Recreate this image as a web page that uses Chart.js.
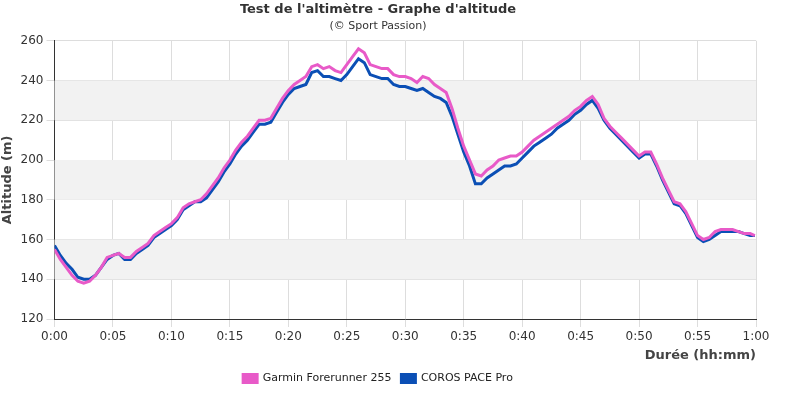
<!DOCTYPE html>
<html><head><meta charset="utf-8">
<script src="https://cdn.jsdelivr.net/npm/chart.js@4/dist/chart.umd.min.js"></script>
<style>body{margin:0;background:#fff}#w{width:800px;height:400px}</style></head>
<body><div id="w"><canvas id="c"></canvas></div>
<script>
const minutes=[0,0.5,1,1.5,2,2.5,3,3.5,4,4.5,5,5.5,6,6.5,7,7.5,8,8.5,9,9.5,10,10.5,11,11.5,12,12.5,13,13.5,14,14.5,15,15.5,16,16.5,17,17.5,18,18.5,19,19.5,20,20.5,21,21.5,22,22.5,23,23.5,24,24.5,25,25.5,26,26.5,27,27.5,28,28.5,29,29.5,30,30.5,31,31.5,32,32.5,33,33.5,34,34.5,35,35.5,36,36.5,37,37.5,38,38.5,39,39.5,40,40.5,41,41.5,42,42.5,43,43.5,44,44.5,45,45.5,46,46.5,47,47.5,48,48.5,49,49.5,50,50.5,51,51.5,52,52.5,53,53.5,54,54.5,55,55.5,56,56.5,57,57.5,58,58.5,59,59.5,59.9];
const garmin=[155,150,146,142,139,138,139,142,146,151,152,153,151,151,154,156,158,162,164,166,168,171,176,178,179,180,183,187,191,196,200,205,209,212,216,220,220,221,226,231,235,238,240,242,247,248,246,247,245,244,248,252,256,254,248,247,246,246,243,242,242,241,239,242,241,238,236,234,226,216,207,200,193,192,195,197,200,201,202,202,204,207,210,212,214,216,218,220,222,225,227,230,232,228,221,217,214,211,208,205,202,204,204,198,191,185,179,178,174,168,162,160,161,164,165,165,165,164,163,163,162];
const coros=[157,152,148,145,141,140,140,142,146,150,152,153,150,150,153,155,157,161,163,165,167,170,175,177,179,179,181,185,189,194,198,203,207,210,214,218,218,219,224,229,233,236,237,238,244,245,242,242,241,240,243,247,251,249,243,242,241,241,238,237,237,236,235,236,234,232,231,229,222,213,204,197,188,188,191,193,195,197,197,198,201,204,207,209,211,213,216,218,220,223,225,228,230,226,220,216,213,210,207,204,201,203,203,197,190,184,178,177,173,167,161,159,160,162,164,164,164,164,163,162,162];
const bands=[[140,160],[180,200],[220,240]];
const bandPlugin={id:'bands',beforeDatasetsDraw(ch){const {ctx,chartArea:a,scales:{y}}=ch;ctx.save();ctx.fillStyle='#f2f2f2';bands.forEach(([l,h])=>{const t=y.getPixelForValue(h),b=y.getPixelForValue(l);ctx.fillRect(a.left,t,a.right-a.left,b-t);});ctx.restore();}};
const pts=a=>a.map((v,i)=>({x:minutes[i],y:v}));
const fmt=v=>Math.floor(v/60)+':'+String(v%60).padStart(2,'0');
Chart.defaults.font.family='"DejaVu Sans"';
new Chart(document.getElementById('c'),{type:'line',plugins:[bandPlugin],
data:{datasets:[
{label:'Garmin Forerunner 255',data:pts(garmin),borderColor:'#e85ac8',backgroundColor:'#e85ac8',borderWidth:3,pointRadius:0},
{label:'COROS PACE Pro',data:pts(coros),borderColor:'#0b4fb5',backgroundColor:'#0b4fb5',borderWidth:3,pointRadius:0}]},
options:{responsive:true,maintainAspectRatio:false,animation:false,
layout:{padding:{left:0,right:44,top:0,bottom:6}},
plugins:{title:{display:true,text:"Test de l'altimètre - Graphe d'altitude",color:'#333',font:{size:13,weight:'bold'},padding:{top:2,bottom:2}},
subtitle:{display:true,text:'(© Sport Passion)',color:'#333',font:{size:11},padding:{bottom:8}},
legend:{position:'bottom',labels:{boxWidth:14,boxHeight:8,color:'#222',font:{size:11},padding:10}}},
scales:{x:{type:'linear',min:0,max:60,ticks:{stepSize:5,color:'#333',font:{size:12},callback:fmt},grid:{color:'#ddd'},border:{color:'#333'},
title:{display:true,text:'Durée (hh:mm)',align:'end',color:'#444',font:{size:13,weight:'bold'},padding:{top:0,bottom:0}}},
y:{min:120,max:260,ticks:{stepSize:20,color:'#333',font:{size:12}},grid:{color:'#ddd'},border:{color:'#333'},
title:{display:true,text:'Altitude (m)',color:'#444',font:{size:13,weight:'bold'},padding:{top:0,bottom:2}}}}}});
</script></body></html>
